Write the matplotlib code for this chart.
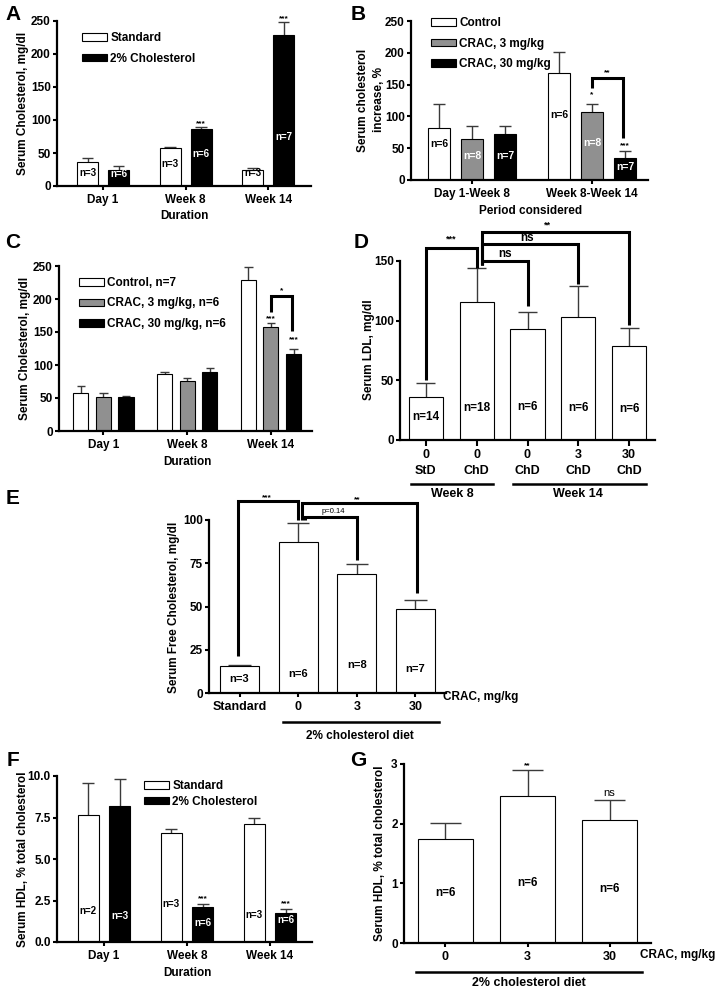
import numpy as np
import matplotlib
matplotlib.use('Agg')
from matplotlib import pyplot as plt
from matplotlib.lines import Line2D
from matplotlib.patches import Patch

plt.rcParams['font.family'] = ['Liberation Sans', 'DejaVu Sans']
plt.rcParams['font.weight'] = 'bold'
plt.rcParams['axes.labelweight'] = 'bold'

W, H = 726, 993
GREY = '#909090'
LAB = 8.5   # axis label size

# ---- data ----
# A: total serum cholesterol, standard vs 2% cholesterol diet
a_groups = ['Day 1', 'Week 8', 'Week 14']
a_standard = [37, 57, 25]
a_standard_err = [5, 2, 3]
a_chol = [25, 87, 229]
a_chol_err = [5, 3, 20]
a_standard_n = ['n=3', 'n=3', 'n=3']
a_chol_n = ['n=6', 'n=6', 'n=7']
a_chol_sig = ['', '***', '***']

# B: cholesterol increase over periods
b_groups = ['Day 1-Week 8', 'Week 8-Week 14']
b_control = [82, 168]
b_control_err = [37, 33]
b_crac3 = [64, 107]
b_crac3_err = [21, 13]
b_crac30 = [73, 34]
b_crac30_err = [12, 11]
b_control_n = ['n=6', 'n=6']
b_crac3_n = ['n=8', 'n=8']
b_crac30_n = ['n=7', 'n=7']

# C: serum cholesterol with CRAC
c_groups = ['Day 1', 'Week 8', 'Week 14']
c_control = [57, 87, 229]
c_control_err = [11, 3, 20]
c_crac3 = [51, 76, 157]
c_crac3_err = [6, 4, 6]
c_crac30 = [51, 89, 116]
c_crac30_err = [2, 6, 8]

# D: serum LDL
d_dose = ['0', '0', '0', '3', '30']
d_diet = ['StD', 'ChD', 'ChD', 'ChD', 'ChD']
d_ldl = [36, 116, 93, 103, 79]
d_ldl_err = [12, 28, 14, 26, 15]
d_n = ['n=14', 'n=18', 'n=6', 'n=6', 'n=6']

# E: serum free cholesterol
e_labels = ['Standard', '0', '3', '30']
e_free = [15.8, 87.5, 68.5, 48.5]
e_free_err = [0.5, 10.5, 6.2, 5.2]
e_n = ['n=3', 'n=6', 'n=8', 'n=7']

# F: HDL, % of total cholesterol
f_groups = ['Day 1', 'Week 8', 'Week 14']
f_standard = [7.63, 6.54, 7.10]
f_standard_err = [1.92, 0.26, 0.36]
f_chol = [8.22, 2.10, 1.77]
f_chol_err = [1.58, 0.20, 0.23]
f_standard_n = ['n=2', 'n=3', 'n=3']
f_chol_n = ['n=3', 'n=6', 'n=6']
f_chol_sig = ['', '***', '***']

# G: HDL with CRAC
g_dose = ['0', '3', '30']
g_hdl = [1.74, 2.47, 2.06]
g_hdl_err = [0.27, 0.43, 0.33]
g_n = ['n=6', 'n=6', 'n=6']
g_sig = ['', '**', 'ns']


fig = plt.figure(figsize=(W / 100, H / 100), dpi=100)


def add_ax(l, t, r, b):
    ax = fig.add_axes([l / W, 1 - b / H, (r - l) / W, (b - t) / H])
    for s in ('top', 'right'):
        ax.spines[s].set_visible(False)
    for s in ('left', 'bottom'):
        ax.spines[s].set_linewidth(1.6)
    ax.tick_params(direction='out', length=3, width=1.5, labelsize=8.5, pad=1.5)
    ax.tick_params(axis='x', pad=2.5)
    return ax


def ftext(x, y, s, **kw):
    kw.setdefault('ha', 'center')
    kw.setdefault('va', 'center')
    return fig.text(x / W, 1 - y / H, s, **kw)


def fline(x1, x2, y, lw=1.8):
    fig.add_artist(Line2D([x1 / W, x2 / W], [1 - y / H, 1 - y / H],
                          color='black', lw=lw, transform=fig.transFigure))


def bars(ax, x, vals, errs, width, color):
    x = np.asarray(x, float)
    vals = np.asarray(vals, float)
    top = vals + np.asarray(errs, float)
    ax.vlines(x, vals, top, color='#3a3a3a', lw=1.0, zorder=1)
    ax.hlines(top, x - width * 0.28, x + width * 0.28, color='#3a3a3a', lw=1.0, zorder=1)
    ax.bar(x, vals, width, color=color, edgecolor='black', linewidth=0.8, zorder=2)


def nlabels(ax, x, ys, labels, color='black', size=7):
    for xi, yi, s in zip(x, ys, labels):
        ax.text(xi, yi, s, ha='center', va='center', fontsize=size, color=color)


def bracket(ax, x1, x2, y, y1, y2, lw=2.2):
    ax.plot([x1, x1, x2, x2], [y1, y, y, y2], color='black', lw=lw,
            clip_on=False, solid_joinstyle='miter', solid_capstyle='butt', zorder=3)


def legend(ax, labels, colors, x, y, spacing):
    handles = [Patch(facecolor=c, edgecolor='black', linewidth=0.8) for c in colors]
    ax.legend(handles, labels, loc='upper left', bbox_to_anchor=(x / W, 1 - y / H),
              bbox_transform=fig.transFigure, frameon=False, fontsize=8.5,
              handlelength=2.1, handleheight=0.6, handletextpad=0.3,
              labelspacing=spacing, borderpad=0, borderaxespad=0)


# ---- A ----
ax = add_ax(57, 21, 311, 186)
xa = np.arange(len(a_groups))
bars(ax, xa - 0.188, a_standard, a_standard_err, 0.255, 'white')
bars(ax, xa + 0.188, a_chol, a_chol_err, 0.255, 'black')
nlabels(ax, xa - 0.188, [20, 33, 19], a_standard_n)
nlabels(ax, xa + 0.188, [18, 48, 75], a_chol_n, color='white')
for xi, v, e, s in zip(xa + 0.188, a_chol, a_chol_err, a_chol_sig):
    ax.text(xi, v + e + 5, s, ha='center', va='center', fontsize=6)
ax.set_xlim(-0.558, 2.52)
ax.set_ylim(0, 250)
ax.set_yticks(range(0, 251, 50))
ax.set_xticks(xa, a_groups)
legend(ax, ['Standard', '2% Cholesterol'], ['white', 'black'], 82, 32, 0.72)
ftext(23, 103, 'Serum Cholesterol, mg/dl', rotation=90, fontsize=LAB)
ftext(184, 216, 'Duration', fontsize=LAB)
ftext(13, 14, 'A', fontsize=15)

# ---- B ----
ax = add_ax(411, 21, 648, 180)
xb = np.arange(len(b_groups))
bars(ax, xb - 0.275, b_control, b_control_err, 0.18, 'white')
bars(ax, xb, b_crac3, b_crac3_err, 0.18, GREY)
bars(ax, xb + 0.275, b_crac30, b_crac30_err, 0.18, 'black')
nlabels(ax, xb - 0.275, [56, 102], b_control_n, size=7.5)
nlabels(ax, xb, [38, 58], b_crac3_n, color='white', size=7.5)
nlabels(ax, xb + 0.275, [38, 21], b_crac30_n, color='white', size=7.5)
ax.text(1.0, 134, '*', ha='center', va='center', fontsize=6)
ax.text(1.275, 54, '***', ha='center', va='center', fontsize=6)
bracket(ax, 1.0, 1.26, 160, 144, 66)
ax.text(1.13, 168, '**', ha='center', va='center', fontsize=6)
ax.set_xlim(-0.508, 1.467)
ax.set_ylim(0, 250)
ax.set_yticks(range(0, 251, 50))
ax.set_xticks(xb, b_groups)
legend(ax, ['Control', 'CRAC, 3 mg/kg', 'CRAC, 30 mg/kg'],
       ['white', GREY, 'black'], 431, 17, 0.72)
ftext(371, 100, 'Serum cholesterol\nincrease, %', rotation=90, fontsize=LAB,
      linespacing=1.4)
ftext(531, 211, 'Period considered', fontsize=LAB)
ftext(358, 14, 'B', fontsize=15)

# ---- C ----
ax = add_ax(59, 266, 312, 431)
xc = np.arange(len(c_groups))
bars(ax, xc - 0.27, c_control, c_control_err, 0.18, 'white')
bars(ax, xc, c_crac3, c_crac3_err, 0.18, GREY)
bars(ax, xc + 0.27, c_crac30, c_crac30_err, 0.18, 'black')
ax.text(2.0, 170, '***', ha='center', va='center', fontsize=6)
ax.text(2.27, 139, '***', ha='center', va='center', fontsize=6)
bracket(ax, 2.0, 2.25, 204, 180, 151)
ax.text(2.125, 213, '*', ha='center', va='center', fontsize=6)
ax.set_xlim(-0.53, 2.49)
ax.set_ylim(0, 250)
ax.set_yticks(range(0, 251, 50))
ax.set_xticks(xc, c_groups)
legend(ax, ['Control, n=7', 'CRAC, 3 mg/kg, n=6', 'CRAC, 30 mg/kg, n=6'],
       ['white', GREY, 'black'], 79, 277, 0.72)
ftext(25, 348, 'Serum Cholesterol, mg/dl', rotation=90, fontsize=LAB)
ftext(187, 462, 'Duration', fontsize=LAB)
ftext(13, 243, 'C', fontsize=15)

# ---- D ----
ax = add_ax(400, 261, 655, 440)
xd = np.arange(len(d_ldl))
bars(ax, xd, d_ldl, d_ldl_err, 0.67, 'white')
nlabels(ax, xd, [19, 27, 28, 27, 26], d_n, size=8.5)
bracket(ax, 0, 1, 161, 50, 144)
ax.text(0.5, 168, '***', ha='center', va='center', fontsize=6.5)
bracket(ax, 1.1, 2, 150, 147, 112.5)
ax.text(1.55, 156, 'ns', ha='center', va='center', fontsize=8.5)
bracket(ax, 1.1, 3, 164, 147, 130.5)
ax.text(2.0, 169.5, 'ns', ha='center', va='center', fontsize=8.5)
bracket(ax, 1.1, 4, 174, 147, 96)
ax.text(2.4, 180, '**', ha='center', va='center', fontsize=6.5)
ax.set_xlim(-0.51, 4.51)
ax.set_ylim(0, 150)
ax.set_yticks([0, 50, 100, 150])
ax.set_xticks(xd, [f'{a}\n{b}' for a, b in zip(d_dose, d_diet)],
              linespacing=1.4, fontsize=9)
ax.tick_params(axis='x', length=4)
fline(411, 493, 484)
fline(513, 646, 484)
ftext(452, 494, 'Week 8', fontsize=9)
ftext(578, 494, 'Week 14', fontsize=9)
ftext(369, 350, 'Serum LDL, mg/dl', rotation=90, fontsize=LAB)
ftext(361, 243, 'D', fontsize=15)

# ---- E ----
ax = add_ax(209, 520, 446, 693)
xe = np.arange(len(e_free))
bars(ax, xe, e_free, e_free_err, 0.67, 'white')
nlabels(ax, xe, [8, 11, 16, 14], e_n, size=8)
bracket(ax, -0.03, 0.99, 111, 21.5, 100)
ax.text(0.47, 113, '***', ha='center', va='center', fontsize=6)
bracket(ax, 1.06, 3.02, 109.6, 100, 57.7)
ax.text(2.0, 112, '**', ha='center', va='center', fontsize=6)
bracket(ax, 1.12, 2.0, 102, 100, 77)
ax.text(1.6, 104.8, 'p=0.14', ha='center', va='center', fontsize=5.5, fontweight='normal')
ax.set_xlim(-0.52, 3.52)
ax.set_ylim(0, 100)
ax.set_yticks([0, 25, 50, 75, 100])
ax.set_xticks(xe, e_labels, fontsize=9)
fline(283, 439, 722)
ftext(443, 697, 'CRAC, mg/kg', ha='left', fontsize=LAB)
ftext(360, 736, '2% cholesterol diet', fontsize=LAB)
ftext(174, 607, 'Serum Free Cholesterol, mg/dl', rotation=90, fontsize=LAB)
ftext(13, 498, 'E', fontsize=15)

# ---- F ----
ax = add_ax(57, 776, 312, 942)
xf = np.arange(len(f_groups))
bars(ax, xf - 0.188, f_standard, f_standard_err, 0.255, 'white')
bars(ax, xf + 0.188, f_chol, f_chol_err, 0.255, 'black')
nlabels(ax, xf - 0.188, [1.85, 2.27, 1.65], f_standard_n)
nlabels(ax, xf + 0.188, [1.57, 1.15, 1.3], f_chol_n, color='white')
for xi, v, e, s in zip(xf + 0.188, f_chol, f_chol_err, f_chol_sig):
    ax.text(xi, v + e + 0.3, s, ha='center', va='center', fontsize=6)
ax.set_xlim(-0.566, 2.506)
ax.set_ylim(0, 10)
ax.set_yticks([0, 2.5, 5, 7.5, 10])
ax.set_xticks(xf, f_groups)
legend(ax, ['Standard', '2% Cholesterol'], ['white', 'black'], 144, 780, 0.3)
ftext(23, 859, 'Serum HDL, % total cholesterol', rotation=90, fontsize=LAB)
ftext(187, 973, 'Duration', fontsize=LAB)
ftext(13, 761, 'F', fontsize=15)

# ---- G ----
ax = add_ax(404, 764, 651, 943)
xg = np.arange(len(g_hdl))
bars(ax, xg, g_hdl, g_hdl_err, 0.667, 'white')
nlabels(ax, xg, [0.84, 1.0, 0.9], g_n, size=8.5)
for xi, v, e, s in zip(xg, g_hdl, g_hdl_err, g_sig):
    if s == 'ns':
        ax.text(xi, v + e + 0.12, s, ha='center', va='center', fontsize=8,
                fontweight='normal')
    elif s:
        ax.text(xi, v + e + 0.07, s, ha='center', va='center', fontsize=6)
ax.set_xlim(-0.506, 2.506)
ax.set_ylim(0, 3)
ax.set_yticks([0, 1, 2, 3])
ax.set_xticks(xg, g_dose, fontsize=9)
fline(416, 642, 972)
ftext(640, 955, 'CRAC, mg/kg', ha='left', fontsize=LAB)
ftext(529, 983, '2% cholesterol diet', fontsize=9)
ftext(380, 853, 'Serum HDL, % total cholesterol', rotation=90, fontsize=LAB)
ftext(358, 761, 'G', fontsize=15)

fig.savefig('out.png', dpi=100)
